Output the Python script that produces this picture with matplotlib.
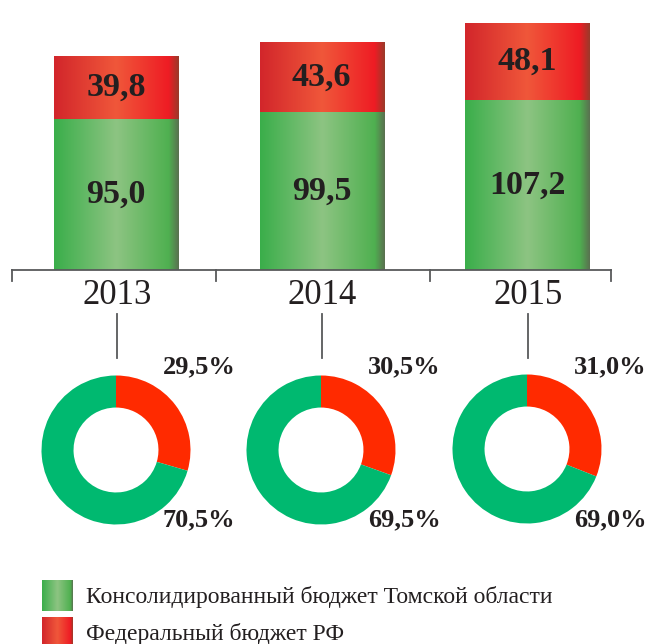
import numpy as np
import matplotlib
matplotlib.use("Agg")
import matplotlib.pyplot as plt
from matplotlib.colors import LinearSegmentedColormap
from matplotlib.lines import Line2D

# ---- data ----
years = ["2013", "2014", "2015"]
regional = [95.0, 99.5, 107.2]      # Консолидированный бюджет Томской области
federal = [39.8, 43.6, 48.1]        # Федеральный бюджет РФ
federal_pct = [29.5, 30.5, 31.0]
regional_pct = [70.5, 69.5, 69.0]
legend_labels = ["Консолидированный бюджет Томской области", "Федеральный бюджет РФ"]

W, H = 660, 644
plt.rcParams['font.family'] = ['Liberation Serif', 'DejaVu Serif']
TXT = '#231f20'

fig = plt.figure(figsize=(W / 100, H / 100), dpi=100)

def fx(x):
    return x / W

def fy(y):
    return 1 - y / H

green_cmap = LinearSegmentedColormap.from_list(
    'g', [(0, '#3aae4a'), (0.5, '#8dc482'), (0.92, '#4fb050'), (1.0, '#5a7050')])
red_cmap = LinearSegmentedColormap.from_list(
    'r', [(0, '#d2262b'), (0.5, '#f0573a'), (0.92, '#ee1c24'), (1.0, '#9a3a2a')])
grad = np.linspace(0, 1, 256).reshape(1, -1)

# ---- bar chart ----
base_px = 270
px_per_unit = 1.59
spacing = 205.5
c0 = 116
ax = fig.add_axes([0, fy(base_px), 1, base_px / H])
ax.set_xlim((0 - c0) / spacing, (W - c0) / spacing)
ax.set_ylim(0, base_px / px_per_unit)
ax.axis('off')

x = np.arange(len(years))
bw = 124 / spacing
b1 = ax.bar(x, regional, width=bw, color='none', edgecolor='none')
b2 = ax.bar(x, federal, width=bw, bottom=regional, color='none', edgecolor='none')
for bars, cmap in ((b1, green_cmap), (b2, red_cmap)):
    for r in bars:
        x0, y0 = r.get_x(), r.get_y()
        im = ax.imshow(grad, cmap=cmap, aspect='auto', interpolation='bilinear',
                       extent=(x0, x0 + r.get_width(), y0, y0 + r.get_height()), zorder=2)
        im.set_clip_path(r)
ax.set_xlim((0 - c0) / spacing, (W - c0) / spacing)
ax.set_ylim(0, base_px / px_per_unit)

for i in range(len(years)):
    ax.text(x[i], regional[i] / 2, f"{regional[i]:.1f}".replace('.', ','),
            ha='center', va='center', fontsize=24.5, fontweight='bold', color=TXT, zorder=3)
    ax.text(x[i], regional[i] + federal[i] / 2, f"{federal[i]:.1f}".replace('.', ','),
            ha='center', va='center', fontsize=24.5, fontweight='bold', color=TXT, zorder=3)
    ax.annotate(years[i], xy=(x[i], 0), xytext=(1, -25), textcoords='offset pixels',
                ha='center', va='center', fontsize=25, color=TXT, annotation_clip=False)

# baseline and separators
line_kw = dict(color='#58595b', lw=1.3, transform=fig.transFigure)
fig.add_artist(Line2D([fx(12), fx(611)], [fy(270), fy(270)], **line_kw))
for tx in (12, 216, 430, 611):
    fig.add_artist(Line2D([fx(tx), fx(tx)], [fy(270), fy(281)], **line_kw))

# ---- donuts ----
centers = [(116, 450), (321, 450), (527, 449)]
R = 74.5
for i, (cx, cy) in enumerate(centers):
    fig.add_artist(Line2D([fx(cx + 1), fx(cx + 1)], [fy(314), fy(358)], **line_kw))
    dax = fig.add_axes([fx(cx - R), fy(cy + R), 2 * R / W, 2 * R / H])
    dax.pie([federal_pct[i], regional_pct[i]], colors=['#ff2a00', '#00b970'],
            startangle=90, counterclock=False, radius=1,
            wedgeprops=dict(width=0.43, edgecolor='none'))
    dax.set_xlim(-1, 1)
    dax.set_ylim(-1, 1)
    dax.set_aspect('auto')
    dax.axis('off')
    fig.text(fx(cx + 47), fy(367), f"{federal_pct[i]:.1f}%".replace('.', ','),
             ha='left', va='center', fontsize=19, fontweight='bold', color=TXT)
    fig.text(fx(cx + 47), fy(520), f"{regional_pct[i]:.1f}%".replace('.', ','),
             ha='left', va='center', fontsize=19, fontweight='bold', color=TXT)

# ---- legend ----
lax = fig.add_axes([0, 0, 1, 84 / H])
lax.set_xlim(0, W)
lax.set_ylim(H, H - 84)
lax.axis('off')
for j, (cmap, lab) in enumerate(zip((green_cmap, red_cmap), legend_labels)):
    top = 580 + j * 37
    lax.imshow(grad, cmap=cmap, aspect='auto', interpolation='bilinear',
               extent=(42, 73, top + 31, top))
    lax.text(86, top + 17, lab, ha='left', va='center', fontsize=17, color=TXT)
lax.set_xlim(0, W)
lax.set_ylim(H, H - 84)

fig.savefig('out.png', dpi=100)
